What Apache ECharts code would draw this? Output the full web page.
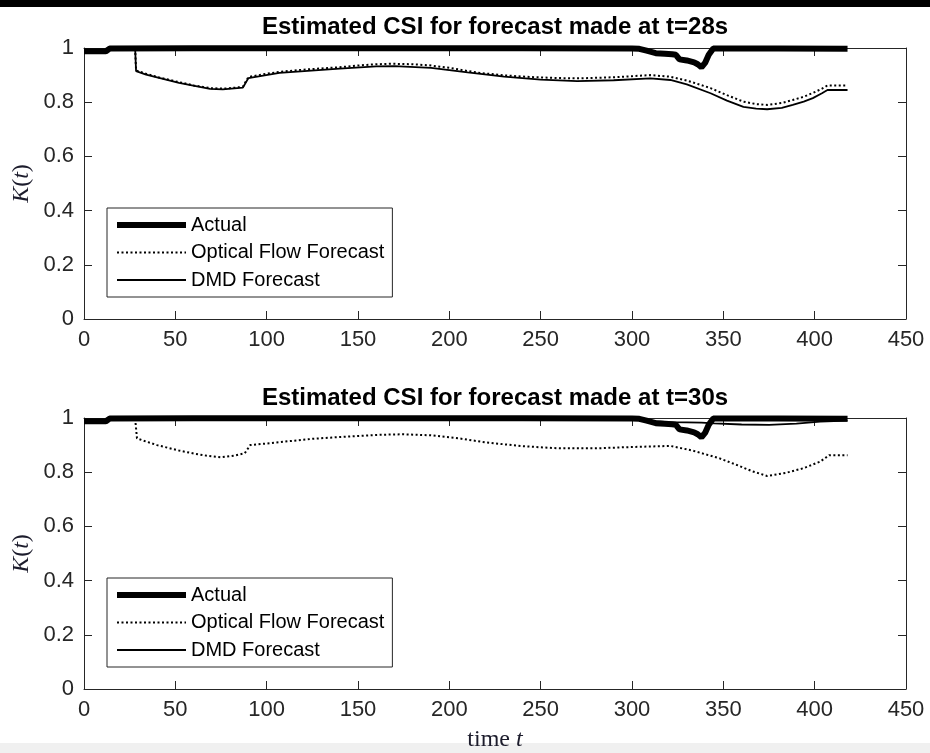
<!DOCTYPE html>
<html>
<head>
<meta charset="utf-8">
<script src="https://cdn.jsdelivr.net/npm/echarts@6/dist/echarts.min.js"></script>
<style>
  html, body { margin: 0; padding: 0; background: #fff; }
  #chart { width: 930px; height: 753px; }
</style>
</head>
<body>
<div id="chart"></div>
<script>
// Measured clear-sky index (same signal in both panels)
const actualT = [0, 12, 14, 60, 120, 180, 240, 300, 304, 308, 313, 318, 322, 324, 326, 330, 334, 336, 338, 340, 342, 344.5, 380, 418];
const actualK = [0.988, 0.988, 0.998, 0.999, 0.999, 0.999, 0.999, 0.998, 0.997, 0.99, 0.981, 0.979, 0.977, 0.975, 0.958, 0.954, 0.947, 0.94, 0.929, 0.945, 0.975, 0.998, 0.998, 0.997];

// Forecast made at t = 28 s
const flow28T = [28, 28.5, 34, 40, 52, 60, 69, 76, 82, 87, 88, 90, 100, 107, 120, 140, 151, 160, 168, 180, 189, 200, 210, 217, 230, 244, 260, 271, 290, 300, 310, 321, 330, 343, 352, 361, 368, 374, 382, 388, 394, 399, 404, 407, 418];
const flow28K = [0.998, 0.917, 0.905, 0.893, 0.874, 0.862, 0.852, 0.85, 0.853, 0.857, 0.858, 0.893, 0.905, 0.912, 0.92, 0.929, 0.936, 0.94, 0.942, 0.94, 0.936, 0.927, 0.915, 0.908, 0.899, 0.893, 0.889, 0.888, 0.892, 0.896, 0.9, 0.894, 0.88, 0.852, 0.826, 0.802, 0.793, 0.79, 0.797, 0.808, 0.82, 0.834, 0.85, 0.862, 0.862];
const dmd28T = [28, 28.5, 34, 52, 69, 76, 87, 88, 90, 107, 140, 160, 170, 190, 210, 230, 250, 270, 290, 310, 321, 330, 343, 352, 361, 368, 374, 382, 388, 394, 399, 404, 407, 418];
const dmd28K = [0.998, 0.915, 0.902, 0.871, 0.849, 0.847, 0.854, 0.856, 0.889, 0.908, 0.924, 0.932, 0.933, 0.927, 0.91, 0.894, 0.883, 0.878, 0.881, 0.888, 0.882, 0.866, 0.833, 0.806, 0.783, 0.776, 0.774, 0.779, 0.79, 0.802, 0.815, 0.833, 0.845, 0.845];

// Forecast made at t = 30 s
const flow30T = [28, 29, 34, 40, 52, 60, 68, 75, 82, 88, 89, 91, 100, 110, 125, 140, 162, 175, 190, 205, 220, 240, 260, 280, 300, 321, 333, 348, 358, 366, 374, 384, 394, 403, 408, 418];
const flow30K = [0.998, 0.925, 0.913, 0.9, 0.88, 0.869, 0.86, 0.855, 0.861, 0.87, 0.872, 0.9, 0.906, 0.913, 0.923, 0.93, 0.938, 0.94, 0.936, 0.925, 0.91, 0.896, 0.888, 0.888, 0.893, 0.897, 0.88, 0.851, 0.825, 0.803, 0.786, 0.797, 0.815, 0.839, 0.863, 0.863];
const dmd30T = [30, 60, 100, 130, 200, 300, 305, 312, 320, 330, 338, 345, 360, 375, 390, 403, 418];
const dmd30K = [0.998, 0.996, 0.994, 0.996, 0.998, 0.997, 0.993, 0.988, 0.985, 0.984, 0.983, 0.98, 0.976, 0.975, 0.979, 0.987, 0.99];

const xTicks = { min: 0, max: 450, interval: 50 };
const yTicks = { min: 0, max: 1, interval: 0.2 };
const panelTitles = ['Estimated CSI for forecast made at t=28s', 'Estimated CSI for forecast made at t=30s'];
const seriesNames = ['Actual', 'Optical Flow Forecast', 'DMD Forecast'];

const pairs = (t, k) => t.map((v, i) => [v, k[i]]);

const AX = '#262626';
const SANS = '"Liberation Sans", Arial, Helvetica, sans-serif';
const SERIF = '"Liberation Serif", "Times New Roman", serif';

const styles = {
  'Actual': { color: '#000', width: 6, type: 'solid' },
  'Optical Flow Forecast': { color: '#000', width: 2, type: [2, 2.5] },
  'DMD Forecast': { color: '#000', width: 1.8, type: 'solid' }
};

const grids = [
  { left: 84, width: 822, top: 48, height: 271 },
  { left: 84, width: 822, top: 418, height: 271 }
];

// Boxed axes: labelled bottom/left axes plus unlabelled top/right axes, ticks pointing inward
const xAxes = [], yAxes = [];
grids.forEach((g, gi) => {
  const common = {
    type: 'value', gridIndex: gi, min: xTicks.min, max: xTicks.max, interval: xTicks.interval,
    axisLine: { show: true, onZero: false, lineStyle: { color: AX, width: 1 } },
    axisTick: { show: true, inside: true, length: 8, lineStyle: { color: AX } },
    splitLine: { show: false }
  };
  xAxes.push(Object.assign({}, common, {
    position: 'bottom',
    axisLabel: { fontSize: 22, color: AX, fontFamily: SANS, margin: 10 }
  }));
  xAxes.push(Object.assign({}, common, { position: 'top', axisLabel: { show: false } }));
  const ycommon = {
    type: 'value', gridIndex: gi, min: yTicks.min, max: yTicks.max, interval: yTicks.interval,
    axisLine: { show: true, onZero: false, lineStyle: { color: AX, width: 1 } },
    axisTick: { show: true, inside: true, length: 8, lineStyle: { color: AX } },
    splitLine: { show: false }
  };
  yAxes.push(Object.assign({}, ycommon, {
    position: 'left',
    axisLabel: { fontSize: 22, color: AX, fontFamily: SANS, margin: 10 }
  }));
  yAxes.push(Object.assign({}, ycommon, { position: 'right', axisLabel: { show: false } }));
});

function line(name, gi, data) {
  const s = styles[name];
  return {
    type: 'line', name, data,
    xAxisIndex: gi * 2, yAxisIndex: gi * 2,
    symbol: 'none', showSymbol: false, clip: false,
    lineStyle: { color: s.color, width: s.width, type: s.type },
    itemStyle: { color: s.color },
    emphasis: { disabled: true }
  };
}

const series = [
  line('Actual', 0, pairs(actualT, actualK)),
  line('Optical Flow Forecast', 0, pairs(flow28T, flow28K)),
  line('DMD Forecast', 0, pairs(dmd28T, dmd28K)),
  line('Actual', 1, pairs(actualT, actualK)),
  line('Optical Flow Forecast', 1, pairs(flow30T, flow30K)),
  line('DMD Forecast', 1, pairs(dmd30T, dmd30K))
];

// Legend keys show only the line sample (marker hidden)
const legendData = seriesNames.map(n => ({
  name: n,
  lineStyle: { color: styles[n].color, width: styles[n].width, type: styles[n].type },
  itemStyle: { opacity: 0, color: 'transparent', borderWidth: 0 }
}));

function legend(top) {
  return {
    orient: 'vertical', left: 107, top,
    data: legendData,
    itemWidth: 69, itemHeight: 20, itemGap: 7.5,
    padding: [7, 8, 7, 7],
    backgroundColor: '#fff', borderColor: AX, borderWidth: 1,
    textStyle: { fontSize: 20, color: '#000', fontFamily: SANS },
    selectedMode: false
  };
}

const kRich = {
  i: { fontFamily: SERIF, fontStyle: 'italic', fontSize: 24, fill: '#1c1c2c' },
  n: { fontFamily: SERIF, fontSize: 24, fill: '#1c1c2c' }
};

const option = {
  animation: false,
  backgroundColor: '#fff',
  title: panelTitles.map((t, i) => ({
    text: t, left: 495, top: i === 0 ? 15 : 386, textAlign: 'center', padding: 0,
    textStyle: { fontSize: 24, fontWeight: 'bold', color: '#000', fontFamily: SANS }
  })),
  grid: grids,
  xAxis: xAxes,
  yAxis: yAxes,
  legend: [legend(208), legend(578)],
  series,
  graphic: [
    { type: 'rect', left: 0, top: 0, shape: { width: 930, height: 7 }, style: { fill: '#000' }, z: 10 },
    { type: 'rect', left: 0, top: 743, shape: { width: 930, height: 10 }, style: { fill: '#f0f0f0' }, z: 1 },
    { type: 'text', x: 22, y: 183.5, rotation: Math.PI / 2, z: 10,
      style: { text: '{i|K}{n|(}{i|t}{n|)}', rich: kRich, align: 'center', verticalAlign: 'middle' } },
    { type: 'text', x: 22, y: 553.5, rotation: Math.PI / 2, z: 10,
      style: { text: '{i|K}{n|(}{i|t}{n|)}', rich: kRich, align: 'center', verticalAlign: 'middle' } },
    { type: 'text', x: 495, y: 740, z: 10,
      style: { text: '{n|time }{i|t}', rich: kRich, align: 'center', verticalAlign: 'middle' } }
  ]
};

const chart = echarts.init(document.getElementById('chart'), null, { renderer: 'canvas' });
chart.setOption(option);
</script>
</body>
</html>
